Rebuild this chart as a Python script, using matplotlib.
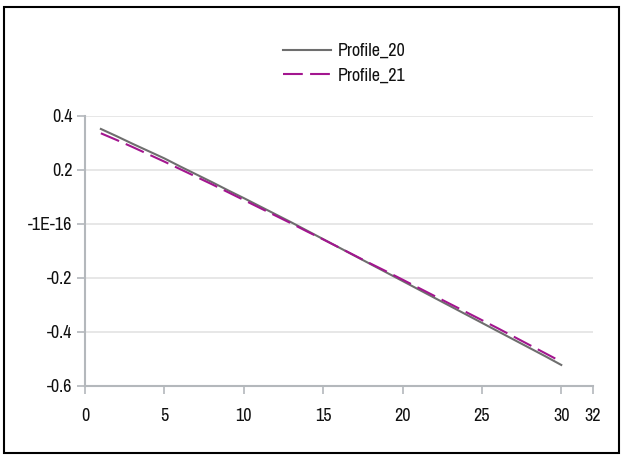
import matplotlib
matplotlib.use("Agg")
import matplotlib.pyplot as plt
from matplotlib.patches import Rectangle

x_values = list(range(1, 31))
profile_20 = [0.352, 0.325, 0.297, 0.270, 0.243, 0.213, 0.184, 0.155, 0.125, 0.096,
              0.066, 0.036, 0.006, -0.025, -0.056, -0.087, -0.118, -0.149, -0.180, -0.211,
              -0.242, -0.273, -0.304, -0.335, -0.366, -0.397, -0.428, -0.459, -0.490, -0.522]
profile_21 = [0.336, 0.311, 0.285, 0.258, 0.231, 0.203, 0.175, 0.147, 0.118, 0.089,
              0.060, 0.031, 0.002, -0.028, -0.057, -0.087, -0.117, -0.147, -0.176, -0.206,
              -0.236, -0.266, -0.296, -0.326, -0.356, -0.386, -0.417, -0.448, -0.479, -0.510]
series_names = ["Profile_20", "Profile_21"]
x_ticks = [0, 5, 10, 15, 20, 25, 30, 32]
y_ticks = [0.4, 0.2, 0.0, -0.2, -0.4, -0.6]
y_tick_labels = ["0.4", "0.2", "-1E-16", "-0.2", "-0.4", "-0.6"]

plt.rcParams['font.family'] = ['Archivo Narrow', 'PT Sans Narrow', 'Liberation Sans', 'DejaVu Sans']

W, H = 624, 457
fig = plt.figure(figsize=(W / 100, H / 100), dpi=100)
ax = fig.add_axes([85 / W, 1 - 386 / H, (593 - 85) / W, (386 - 116) / H])

ax.plot(x_values, profile_20, color="#6e6e6e", lw=1.5, label=series_names[0], zorder=3)
ax.plot(x_values, profile_21, color="#a3168f", lw=1.5, dashes=(9.5, 3.5), label=series_names[1], zorder=4)

ax.set_xlim(0, 32)
ax.set_ylim(-0.6, 0.4)
ax.set_xticks(x_ticks)
ax.set_xticklabels([str(t) for t in x_ticks])
ax.set_yticks(y_ticks)
ax.set_yticklabels(y_tick_labels)

ax.grid(axis='y', color="#e3e3e3", lw=1.2, zorder=0)
for s in ("top", "right"):
    ax.spines[s].set_visible(False)
for s in ("left", "bottom"):
    ax.spines[s].set_color("#b4b8bc")
    ax.spines[s].set_linewidth(1.5)
ax.tick_params(axis='both', colors="#b4b8bc", labelcolor="#111111", length=6, width=1.2, labelsize=13)
ax.tick_params(axis='x', pad=10)
ax.tick_params(axis='y', pad=3)

leg = fig.legend(loc='upper left', bbox_to_anchor=(283 / W, 1 - 43 / H), frameon=False,
                 fontsize=13, handlelength=2.65, handletextpad=0.4, labelspacing=0.48,
                 borderpad=0, borderaxespad=0)
for t in leg.get_texts():
    t.set_color("#111111")

fig.patches.append(Rectangle((4 / W, 1 - 453 / H), 615 / W, 446 / H, transform=fig.transFigure,
                             fill=False, edgecolor="black", lw=1.5))

fig.savefig("out.png", dpi=100)
